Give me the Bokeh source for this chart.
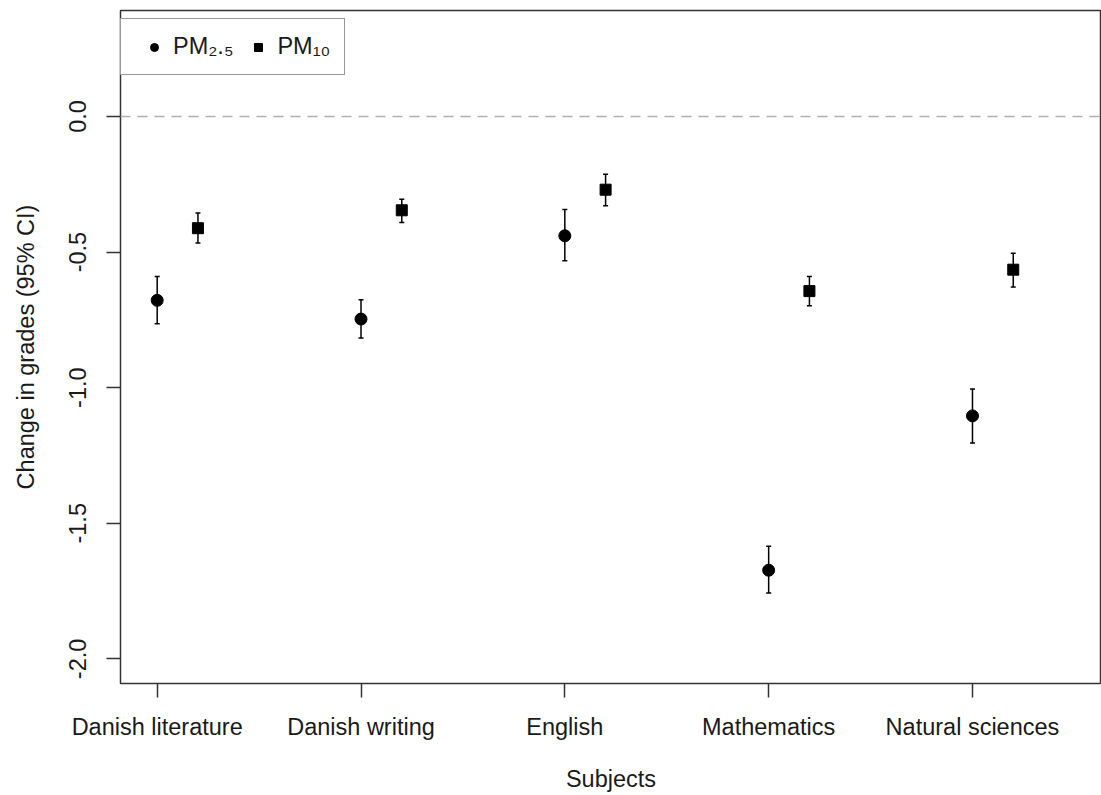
from bokeh.plotting import figure
from bokeh.models import (ColumnDataSource, Whisker, TeeHead, Span, FixedTicker,
                          PrintfTickFormatter, Legend, LegendItem, Range1d)
from bokeh.embed import file_html
from bokeh.resources import INLINE

subjects = ["Danish literature", "Danish writing", "English", "Mathematics", "Natural sciences"]
positions = [1, 2, 3, 4, 5]
offset_pm10 = 0.2

pm25_est = [-0.678, -0.747, -0.440, -1.673, -1.104]
pm25_lo = [-0.764, -0.817, -0.532, -1.757, -1.204]
pm25_hi = [-0.590, -0.676, -0.343, -1.585, -1.005]

pm10_est = [-0.412, -0.346, -0.270, -0.644, -0.565]
pm10_lo = [-0.467, -0.391, -0.329, -0.698, -0.629]
pm10_hi = [-0.356, -0.305, -0.213, -0.590, -0.504]

y_ticks = [-2.0, -1.5, -1.0, -0.5, 0.0]

FONT = "Liberation Sans"
FS = "23.5px"

src25 = ColumnDataSource(dict(x=positions, y=pm25_est, lo=pm25_lo, hi=pm25_hi))
src10 = ColumnDataSource(dict(x=[p + offset_pm10 for p in positions], y=pm10_est, lo=pm10_lo, hi=pm10_hi))

p = figure(width=1101, height=795, output_backend="svg", toolbar_location=None,
           x_range=Range1d(0.82, 5.633), y_range=Range1d(-2.0907, 0.3906),
           min_border_left=120, min_border_top=10, min_border_bottom=112, min_border_right=0)

p.xgrid.visible = False
p.ygrid.visible = False
p.outline_line_color = "#333333"
p.outline_line_width = 1.5
p.background_fill_color = "white"
p.border_fill_color = "white"

zero = Span(location=0, dimension="width", line_color="#b0b0b0", line_dash="10 7", line_width=1.5)
p.add_layout(zero)

for src in (src25, src10):
    w = Whisker(source=src, base="x", lower="lo", upper="hi", line_color="black", line_width=1.5,
                lower_head=TeeHead(size=5, line_width=1.5, line_color="black"),
                upper_head=TeeHead(size=5, line_width=1.5, line_color="black"))
    p.add_layout(w)

r25 = p.scatter("x", "y", source=src25, marker="circle", size=12, fill_color="black", line_color="black")
r10 = p.scatter("x", "y", source=src10, marker="square", size=11, fill_color="black", line_color="black")

# axes
for ax in (p.xaxis[0], p.yaxis[0]):
    ax.axis_line_color = None
    ax.major_tick_in = 0
    ax.major_tick_out = 14
    ax.major_tick_line_width = 1.5
    ax.major_tick_line_color = "#333333"
    ax.minor_tick_line_color = None
    ax.major_label_text_font = FONT
    ax.major_label_text_font_size = FS
    ax.major_label_text_color = "#1a1a1a"
    ax.axis_label_text_font = FONT
    ax.axis_label_text_font_size = FS
    ax.axis_label_text_font_style = "normal"
    ax.axis_label_text_color = "#1a1a1a"

p.xaxis.ticker = FixedTicker(ticks=positions)
p.xaxis.major_label_overrides = {pos: s for pos, s in zip(positions, subjects)}
p.xaxis.major_label_standoff = 16
p.xaxis.axis_label = "Subjects"
p.xaxis.axis_label_standoff = 23

p.yaxis.ticker = FixedTicker(ticks=y_ticks)
p.yaxis.formatter = PrintfTickFormatter(format="%.1f")
p.yaxis.major_label_orientation = "vertical"
p.yaxis.major_label_standoff = 20
p.yaxis.axis_label = "Change in grades (95% CI)"
p.yaxis.axis_label_standoff = 28

legend = Legend(items=[LegendItem(label="PM\u2082.\u2085", renderers=[r25]),
                       LegendItem(label="PM\u2081\u2080", renderers=[r10])],
                orientation="horizontal", location=(0, 608), margin=0, padding=14,
                glyph_width=38, glyph_height=20, label_standoff=0, spacing=6,
                label_text_font=FONT, label_text_font_size=FS, label_text_color="#1a1a1a",
                border_line_color="#333333", border_line_width=1.5,
                background_fill_alpha=1.0)
p.add_layout(legend)

open("out.html", "w").write(file_html(p, INLINE))
